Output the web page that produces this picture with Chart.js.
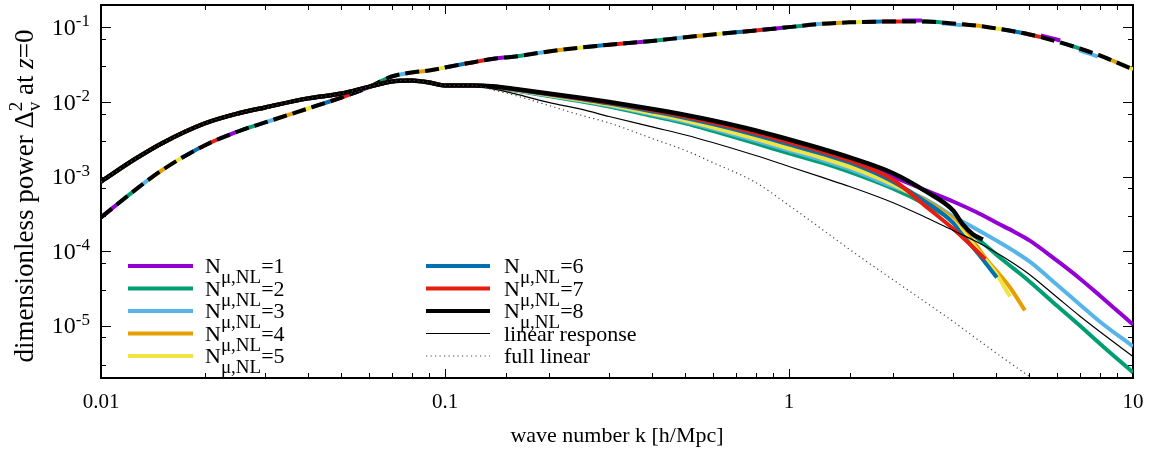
<!DOCTYPE html>
<html><head><meta charset="utf-8">
<script src="https://cdn.jsdelivr.net/npm/chart.js@4.4.1/dist/chart.umd.min.js"></script>
<style>html,body{margin:0;padding:0;background:#fff}#wrap{width:1156px;height:450px;position:relative}</style>
</head><body><div id="wrap"><canvas id="c" width="1156" height="450"></canvas></div>
<script>
// ---------- data ----------
const xTickLabels = ['0.01', '0.1', '1', '10'];
const yTickExponents = ['-1', '-2', '-3', '-4', '-5'];
const seriesNames = ['1', '2', '3', '4', '5', '6', '7', '8'];
const seriesColors = ['#9400d3', '#009e73', '#56b4e9', '#e69f00', '#f0e442', '#0072b2', '#e51e10', '#000000'];

// upper (dashed) curve
const kUpper = [0.01,0.0125,0.015,0.02,0.025,0.03,0.04,0.05,0.06,0.07,0.08,0.09,0.1,0.12,0.14,0.16,0.2,0.25,0.3,0.4,0.5,0.6,0.8,1,1.25,1.5,2,2.5,3,3.5,4,5,6,7,8,10];
const vUpper = [2.84e-4,6.5e-4,1.21e-3,2.62e-3,4.03e-3,5.33e-3,8.2e-3,1.15e-2,1.58e-2,2.2e-2,2.49e-2,2.65e-2,2.91e-2,3.4e-2,3.84e-2,4.08e-2,4.77e-2,5.39e-2,5.86e-2,6.59e-2,7.4e-2,8.06e-2,9.12e-2,0.101,0.112,0.117,0.120,0.120,0.113,0.106,0.097,0.0806,0.0649,0.0522,0.0421,0.0274];
const kUpperTail = [2,2.5,3,3.5,4,5,6,7,8,10];
const vUpperTailN1 = [0.123,0.124,0.118,0.111,0.102,0.085,0.069,0.0555,0.0448,0.0292];
const vUpperTailN3 = [0.119,0.118,0.110,0.102,0.093,0.0765,0.0615,0.0493,0.0397,0.0255];

// lower (solid) curves, shared part
const kLow = [0.01,0.0125,0.015,0.02,0.025,0.03,0.04,0.05,0.06,0.07,0.08,0.09,0.1,0.12];
const vLow = [8.6e-4,1.70e-3,2.79e-3,5.16e-3,7.03e-3,8.47e-3,1.12e-2,1.30e-2,1.60e-2,1.89e-2,1.95e-2,1.83e-2,1.67e-2,1.67e-2];

// lower curves, individual tails
const kTail = [0.14,0.16,0.2,0.25,0.3,0.4,0.5,0.6,0.8,1,1.25,1.5,2,2.5,3,3.5,4,4.5,5,6,7,8,10];
const kN1 = kTail;
const vN1 = [1.58e-2,1.45e-2,1.235e-2,1.05e-2,9.1e-3,6.95e-3,5.6e-3,4.5e-3,3.15e-3,2.33e-3,1.97e-3,1.62e-3,1.0e-3,6.53e-4,4.65e-4,3.36e-4,2.43e-4,1.84e-4,1.40e-4,7.53e-5,4.32e-5,2.56e-5,1.04e-5];
const kN2 = kTail;
const vN2 = [1.571e-2,1.429e-2,1.207e-2,1.019e-2,8.73e-3,6.52e-3,5.17e-3,4.10e-3,2.79e-3,2.05e-3,1.53e-3,1.16e-3,6.95e-4,4.24e-4,2.59e-4,1.53e-4,9.06e-5,5.85e-5,3.94e-5,1.87e-5,1.01e-5,5.81e-6,2.37e-6];
const kN3 = kTail;
const vN3 = [1.579e-2,1.444e-2,1.226e-2,1.041e-2,8.98e-3,6.80e-3,5.44e-3,4.37e-3,3.02e-3,2.23e-3,1.66e-3,1.26e-3,7.39e-4,4.94e-4,2.93e-4,1.99e-4,1.40e-4,1.01e-4,7.30e-5,3.59e-5,1.94e-5,1.146e-5,5.30e-6];
const kN4 = [0.14,0.16,0.2,0.25,0.3,0.4,0.5,0.6,0.8,1,1.25,1.5,2,2.5,3,3.5,3.73,4.06,4.39,4.85];
const vN4 = [1.594e-2,1.464e-2,1.255e-2,1.075e-2,9.36e-3,7.25e-3,5.89e-3,4.82e-3,3.40e-3,2.54e-3,1.89e-3,1.45e-3,8.23e-4,4.8e-4,2.7e-4,1.2e-4,8.0e-5,5.1e-5,3.27e-5,1.61e-5];
const kN5 = [0.14,0.16,0.2,0.25,0.3,0.4,0.5,0.6,0.8,1,1.25,1.5,2,2.5,3,3.5,4,4.39];
const vN5 = [1.587e-2,1.454e-2,1.240e-2,1.058e-2,9.16e-3,7.02e-3,5.66e-3,4.59e-3,3.21e-3,2.38e-3,1.78e-3,1.35e-3,7.86e-4,4.6e-4,2.5e-4,1.1e-4,5.0e-5,2.48e-5];
const kN6 = [0.14,0.16,0.2,0.25,0.3,0.4,0.5,0.6,0.8,1,1.25,1.5,2,2.5,3,3.15,3.6,4.02];
const vN6 = [1.601e-2,1.474e-2,1.269e-2,1.093e-2,9.55e-3,7.49e-3,6.12e-3,5.06e-3,3.62e-3,2.71e-3,2.02e-3,1.55e-3,8.62e-4,4.6e-4,2.4e-4,1.79e-4,8.5e-5,4.45e-5];
const kN7 = [0.14,0.16,0.2,0.25,0.3,0.4,0.5,0.6,0.8,1,1.25,1.5,2,2.5,3,3.5,3.72];
const vN7 = [1.609e-2,1.484e-2,1.284e-2,1.111e-2,9.76e-3,7.74e-3,6.37e-3,5.31e-3,3.84e-3,2.89e-3,2.16e-3,1.65e-3,9.17e-4,4.0e-4,2.0e-4,1.03e-4,7.8e-5];
const kN8 = [0.14,0.16,0.2,0.25,0.3,0.4,0.5,0.6,0.8,1,1.25,1.5,2,2.5,3,3.2,3.43,3.66];
const vN8 = [1.618e-2,1.500e-2,1.303e-2,1.135e-2,1.002e-2,8.09e-3,6.72e-3,5.66e-3,4.16e-3,3.15e-3,2.35e-3,1.81e-3,1.12e-3,6.34e-4,3.52e-4,2.29e-4,1.68e-4,1.44e-4];
const vLinResp = [1.476e-2,1.284e-2,9.88e-3,7.96e-3,6.41e-3,4.64e-3,3.62e-3,2.87e-3,1.92e-3,1.37e-3,9.76e-4,7.39e-4,4.51e-4,2.84e-4,1.90e-4,1.353e-4,9.64e-5,6.86e-5,4.89e-5,2.44e-5,1.357e-5,8.41e-6,3.89e-6];
const kFullLin = [0.14,0.16,0.2,0.25,0.3,0.4,0.5,0.6,0.8,1,1.25,1.5,2,2.5,3,3.5,4,4.5,5];
const vFullLin = [1.43e-2,1.226e-2,9.01e-3,6.61e-3,5.25e-3,3.25e-3,2.245e-3,1.55e-3,8.36e-4,4.11e-4,1.96e-4,1.057e-4,4.19e-5,2.06e-5,1.146e-5,6.78e-6,4.33e-6,2.94e-6,2.10e-6];

// ---------- build datasets ----------
const FONT = '"Liberation Serif", "Times New Roman", serif';
const pts = (ks, vs) => ks.map((k, i) => ({x: k, y: vs[i]}));
const lowerK = [kN1, kN2, kN3, kN4, kN5, kN6, kN7, kN8];
const lowerV = [vN1, vN2, vN3, vN4, vN5, vN6, vN7, vN8];

const drawList = [];
for (let i = 0; i < 7; i++) {
  let ks = kUpper, vs = vUpper;
  if (i === 0 || i === 2) {
    const tail = i === 0 ? vUpperTailN1 : vUpperTailN3;
    const cut = kUpper.indexOf(kUpperTail[0]);
    ks = kUpper.slice(0, cut).concat(kUpperTail);
    vs = vUpper.slice(0, cut).concat(tail);
  }
  drawList.push({data: pts(ks, vs), borderColor: seriesColors[i], borderWidth: 4,
    borderDash: [20, 120], borderDashOffset: -i * 20});
}
drawList.push({data: pts(kUpper, vUpper), borderColor: '#000', borderWidth: 4, borderDash: [14, 6]});
for (let i = 0; i < 8; i++) {
  drawList.push({data: pts(kLow.concat(lowerK[i]), vLow.concat(lowerV[i])),
    borderColor: seriesColors[i], borderWidth: i === 7 ? 4.5 : 4});
}
drawList.push({data: pts(kLow.concat(kTail), vLow.concat(vLinResp)), borderColor: '#000', borderWidth: 1.2});
drawList.push({data: pts(kLow.concat(kFullLin), vLow.concat(vFullLin)), borderColor: '#444', borderWidth: 1.2, borderDash: [1.2, 3.3]});

const datasets = drawList.map((d, i) => Object.assign({
  pointRadius: 0, fill: false, cubicInterpolationMode: 'monotone',
  borderCapStyle: 'butt', borderJoinStyle: 'round', order: drawList.length - i
}, d));

// ---------- decorations ----------
function line(ctx, x1, y1, x2, y2) { ctx.beginPath(); ctx.moveTo(x1, y1); ctx.lineTo(x2, y2); ctx.stroke(); }
const isMajor = v => Math.abs(Math.log10(v) - Math.round(Math.log10(v))) < 1e-6;

function drawNLabel(ctx, x, yb, n) {
  ctx.font = `22px ${FONT}`; ctx.fillText('N', x, yb);
  const w1 = ctx.measureText('N').width;
  ctx.font = `19px ${FONT}`; ctx.fillText('\u03bc,NL', x + w1, yb + 10);
  const w2 = ctx.measureText('\u03bc,NL').width;
  ctx.font = `22px ${FONT}`; ctx.fillText('=' + n, x + w1 + w2, yb);
}

const decor = {
  id: 'decor',
  beforeDatasetsDraw(chart) {
    const {ctx, chartArea: a, scales: {x, y}} = chart;
    ctx.save();
    ctx.strokeStyle = '#000'; ctx.lineWidth = 1;
    x.ticks.forEach(t => {
      const px = Math.round(x.getPixelForValue(t.value)) + 0.5;
      const L = isMajor(t.value) ? 9 : 5;
      line(ctx, px, a.bottom, px, a.bottom - L); line(ctx, px, a.top, px, a.top + L);
    });
    y.ticks.forEach(t => {
      const py = Math.round(y.getPixelForValue(t.value)) + 0.5;
      const L = isMajor(t.value) ? 10 : 5;
      line(ctx, a.left, py, a.left + L, py); line(ctx, a.right, py, a.right - L, py);
    });
    ctx.lineWidth = 2;
    ctx.strokeRect(a.left, a.top, a.right - a.left, a.bottom - a.top);
    ctx.restore();
  },
  afterDraw(chart) {
    const {ctx, chartArea: a, scales: {x, y}} = chart;
    ctx.save();
    ctx.fillStyle = '#000'; ctx.textBaseline = 'alphabetic';
    ctx.font = `21px ${FONT}`; ctx.textAlign = 'center';
    xTickLabels.forEach(s => ctx.fillText(s, x.getPixelForValue(parseFloat(s)), a.bottom + 30));
    yTickExponents.forEach(e => {
      const py = y.getPixelForValue(Math.pow(10, parseInt(e)));
      ctx.font = `17px ${FONT}`; ctx.textAlign = 'right';
      ctx.fillText(e, 90, py - 1);
      const we = ctx.measureText(e).width;
      ctx.font = `24px ${FONT}`;
      ctx.fillText('10', 90 - we, py + 7.5);
    });
    ctx.font = `22px ${FONT}`; ctx.textAlign = 'center';
    ctx.fillText('wave number k [h/Mpc]', (a.left + a.right) / 2, 442);
    // y title (rotated)
    ctx.save();
    ctx.translate(33, 196);
    ctx.rotate(-Math.PI / 2);
    ctx.textAlign = 'left';
    const big = `27px ${FONT}`, small = `19px ${FONT}`, ital = `italic 27px ${FONT}`;
    const parts = [[big, 'dimensionless power \u0394'], [small, '2'], [big, ' at '], [ital, 'z'], [big, '=0']];
    const widths = parts.map(p => { ctx.font = p[0]; return ctx.measureText(p[1]).width; });
    const total = widths.reduce((s, w) => s + w, 0);
    let cx = -total / 2;
    parts.forEach((p, i) => {
      ctx.font = p[0];
      if (p[1] === '2') { ctx.fillText('2', cx, -11); ctx.fillText('v', cx, 7); }
      else ctx.fillText(p[1], cx, 0);
      cx += widths[i];
    });
    ctx.restore();
    // legend
    ctx.textAlign = 'left';
    const rows = [266, 288.5, 311, 333.5, 356];
    for (let i = 0; i < 8; i++) {
      const col = i < 5 ? 0 : 1, r = i < 5 ? i : i - 5;
      const x1 = col ? 426 : 128, x2 = col ? 490 : 193, tx = col ? 504 : 205;
      ctx.strokeStyle = seriesColors[i]; ctx.lineWidth = 4; ctx.setLineDash([]);
      line(ctx, x1, rows[r], x2, rows[r]);
      drawNLabel(ctx, tx, rows[r] + 7, seriesNames[i]);
    }
    ctx.strokeStyle = '#000'; ctx.lineWidth = 1.2;
    line(ctx, 426, rows[3], 490, rows[3]);
    ctx.strokeStyle = '#444'; ctx.setLineDash([1.2, 3.3]);
    line(ctx, 426, rows[4], 490, rows[4]);
    ctx.setLineDash([]);
    ctx.font = `22px ${FONT}`;
    ctx.fillText('linear response', 504, rows[3] + 7);
    ctx.fillText('full linear', 504, rows[4] + 7);
    ctx.restore();
  }
};

new Chart(document.getElementById('c'), {
  type: 'line',
  data: {datasets},
  options: {
    responsive: false, animation: false,
    layout: {padding: {left: 101, right: 23, top: 5, bottom: 72}},
    plugins: {legend: {display: false}, tooltip: {enabled: false}},
    scales: {
      x: {type: 'logarithmic', min: 0.01, max: 10, display: false},
      y: {type: 'logarithmic', min: 2e-6, max: 0.2, display: false}
    }
  },
  plugins: [decor]
});
</script></body></html>
